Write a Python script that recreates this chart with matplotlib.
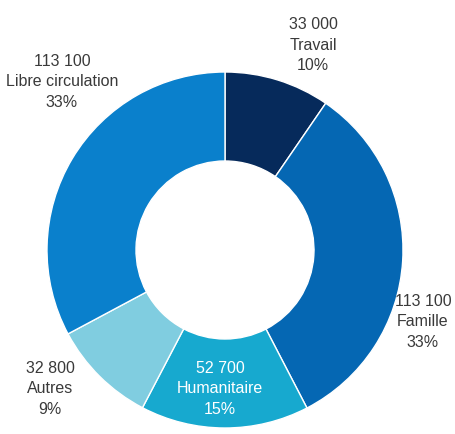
import matplotlib.pyplot as plt

# admissions by category
categories = ["Travail", "Famille", "Humanitaire", "Autres", "Libre circulation"]
values = [33000, 113100, 52700, 32800, 113100]
pct_labels = ["10%", "33%", "15%", "9%", "33%"]

colors = ["#062a5b", "#0567b3", "#17a9cf", "#80cde0", "#0a80cc"]
text_colors = ["#3a3a3a", "#3a3a3a", "#ffffff", "#3a3a3a", "#3a3a3a"]
# label centres in pixel coords (x, y from top)
label_pos = [(313, 45), (423, 322), (220, 389), (50, 389), (62, 82)]

W, H = 455, 435
fig = plt.figure(figsize=(W / 100, H / 100), dpi=100)
ax = fig.add_axes([0, 0, 1, 1])

cx, cy, r = 225, H - 251, 178
ax.pie(values, colors=colors, startangle=90, counterclock=False,
       center=(cx, cy), radius=r, frame=True,
       wedgeprops=dict(width=r * 0.5, edgecolor="white", linewidth=1.0))
ax.set_xlim(0, W)
ax.set_ylim(0, H)
ax.set_aspect("equal")
ax.axis("off")

fonts = ["Liberation Sans Narrow", "Liberation Sans", "DejaVu Sans"]
for name, v, p, (x, y), tc in zip(categories, values, pct_labels, label_pos, text_colors):
    num = f"{v:,}".replace(",", " ")
    ax.text(x, H - y, f"{num}\n{name}\n{p}", ha="center", va="center",
            fontsize=11.5, color=tc, family=fonts, linespacing=1.45)

fig.savefig("out.png", dpi=100)
